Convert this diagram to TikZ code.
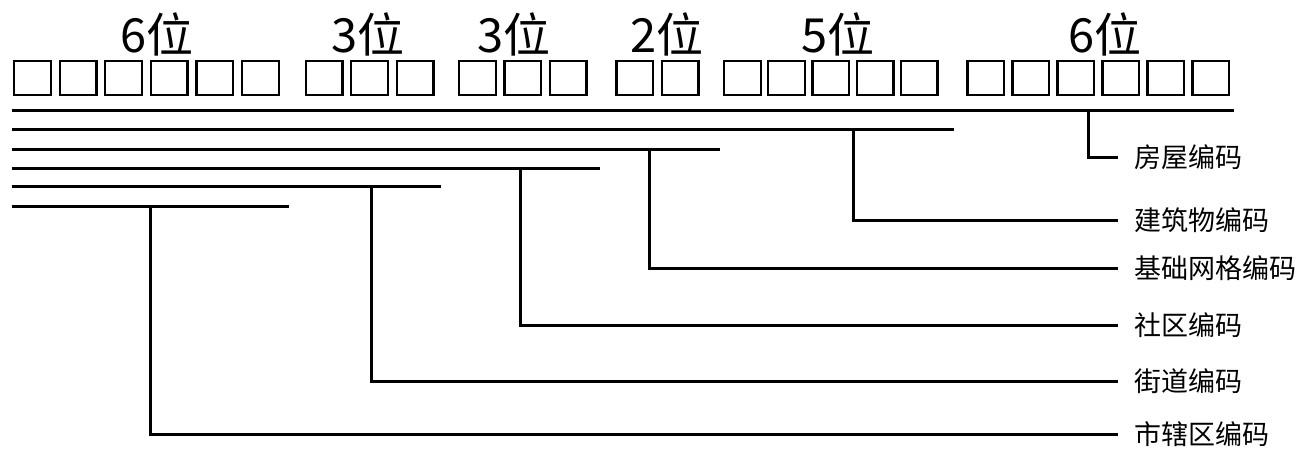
\documentclass[tikz,border=0pt]{standalone}
\usepackage{fontspec}
\newfontfamily\cjkfont{Noto Sans CJK SC}
\usetikzlibrary{positioning}
\definecolor{ink}{HTML}{000000}
\tikzset{
  digit box/.style={
    draw=ink,
    line width=2.3pt,
    minimum width=36.7pt,
    minimum height=34.4pt,
    inner sep=0pt,
    anchor=north west
  },
  width label/.style={
    anchor=base,
    inner sep=0pt,
    font=\cjkfont\fontsize{47}{47}\selectfont,
    text=ink
  },
  code label/.style={
    anchor=west,
    inner xsep=16pt,
    inner ysep=0pt,
    font=\cjkfont\fontsize{27}{27}\selectfont,
    text=ink
  },
  bar/.style={
    draw=ink,
    line width=3pt
  },
  leader/.style={
    draw=ink,
    line width=3pt
  }
}

\begin{document}
\begin{tikzpicture}[x=1pt,y=-1pt]
  \useasboundingbox (0,0) rectangle (1303,448);

  \foreach \gx/\gn/\gp/\gid in {11.7/6/45.6/city, 303.3/3/45.5/street,
      456.7/3/45.3/community, 614/2/45.4/grid, 721.7/5/44.2/building,
      965/6/45/house} {
    \foreach \i in {1,...,\gn} {
      \node[digit box] (box-\gid-\i) at ({\gx+1.2+(\i-1)*\gp},59.5) {};
    }
  }

  \node[width label] (width-city) at (157,52) {6位};
  \node[width label] (width-street) at (368,52) {3位};
  \node[width label] (width-community) at (514,52) {3位};
  \node[width label] (width-grid) at (667,52) {2位};
  \node[width label] (width-building) at (838,52) {5位};
  \node[width label] (width-house) at (1105,52) {6位};

  \foreach \bid/\by/\bend/\btap in {house/110/1234/1088, building/129/954/853,
      grid/149/720/649, community/168/600/520, street/186/441/371,
      city/206/289/150} {
    \coordinate (bar-\bid-l) at (11.7,\by);
    \coordinate (bar-\bid-r) at (\bend,\by);
    \coordinate (tap-\bid) at (\btap,\by);
    \draw[bar] (bar-\bid-l) -- (bar-\bid-r);
  }

  \node[code label] (code-house) at (1118,157) {房屋编码};
  \node[code label] (code-building) at (1118,220) {建筑物编码};
  \node[code label] (code-grid) at (1118,268) {基础网格编码};
  \node[code label] (code-community) at (1118,325) {社区编码};
  \node[code label] (code-street) at (1118,381) {街道编码};
  \node[code label] (code-city) at (1118,434) {市辖区编码};

  \draw[leader] (tap-house) |- (code-house.west);
  \draw[leader] (tap-building) |- (code-building.west);
  \draw[leader] (tap-grid) |- (code-grid.west);
  \draw[leader] (tap-community) |- (code-community.west);
  \draw[leader] (tap-street) |- (code-street.west);
  \draw[leader] (tap-city) |- (code-city.west);
\end{tikzpicture}
\end{document}
